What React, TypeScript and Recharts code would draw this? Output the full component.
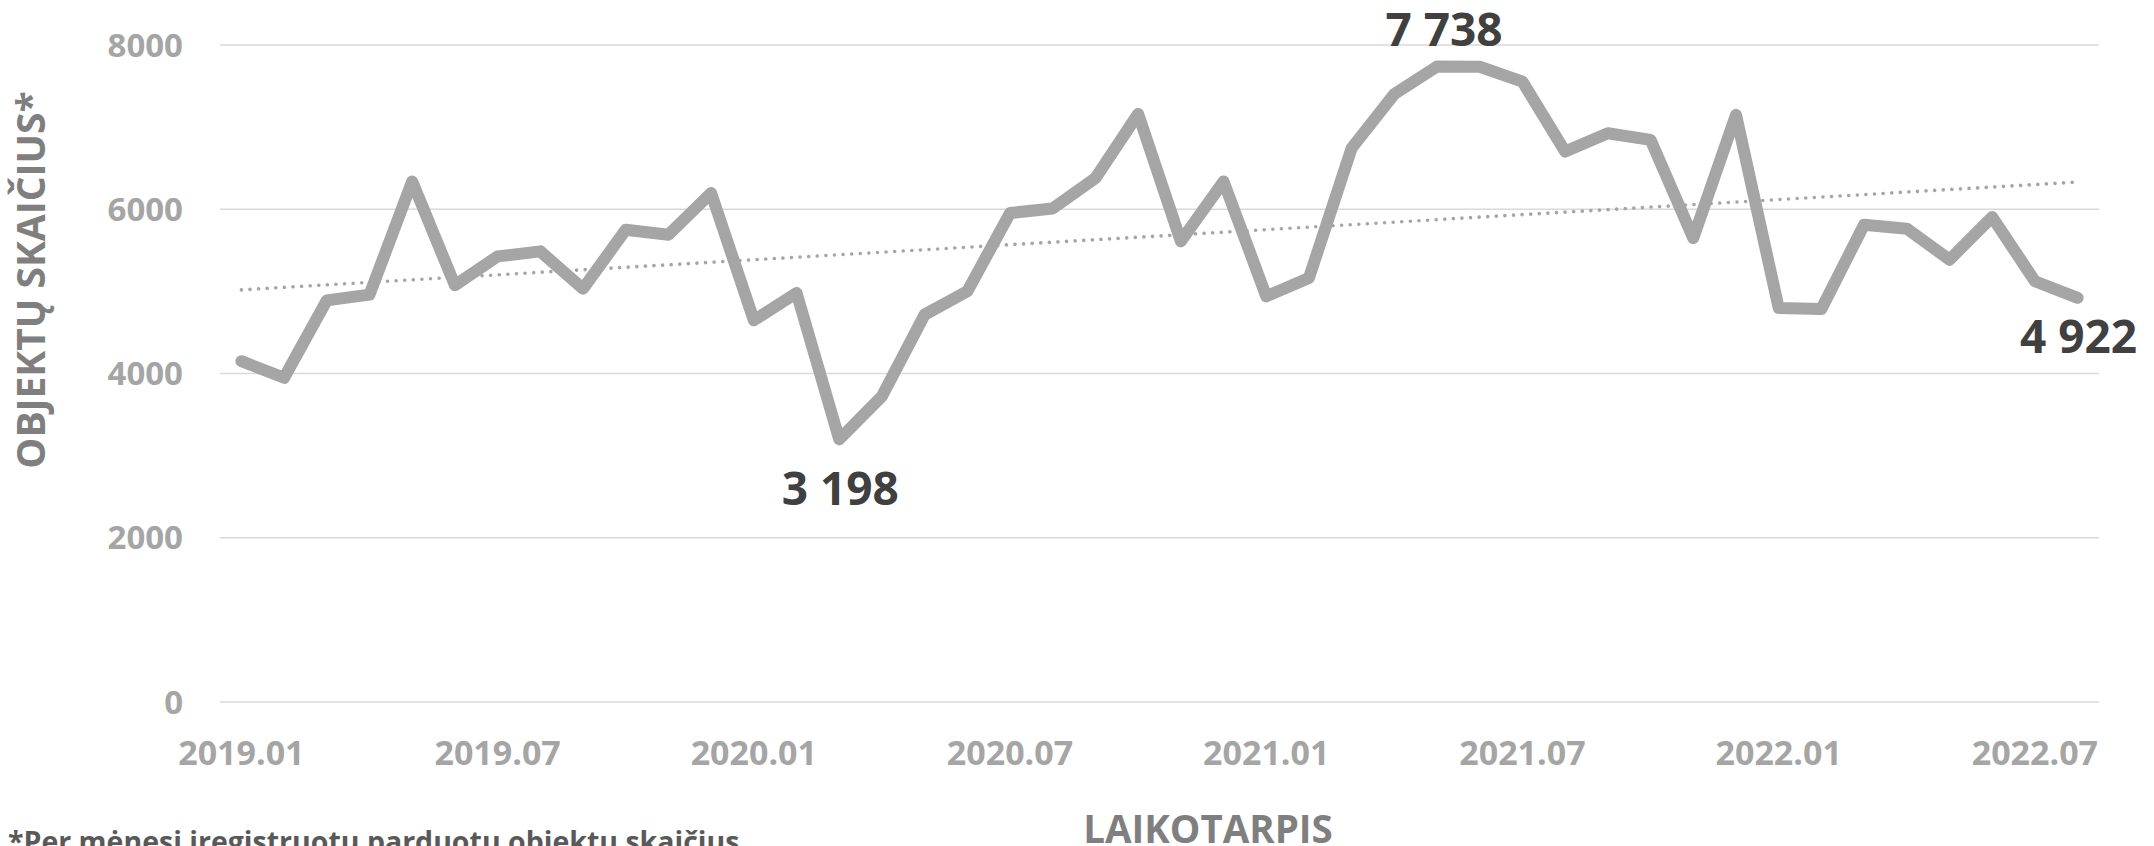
import React from 'react';
import { LineChart, Line, XAxis, YAxis, CartesianGrid } from 'recharts';

const MONTHS = [
  '2019.01', '2019.02', '2019.03', '2019.04', '2019.05', '2019.06', '2019.07', '2019.08', '2019.09', '2019.10', '2019.11', '2019.12',
  '2020.01', '2020.02', '2020.03', '2020.04', '2020.05', '2020.06', '2020.07', '2020.08', '2020.09', '2020.10', '2020.11', '2020.12',
  '2021.01', '2021.02', '2021.03', '2021.04', '2021.05', '2021.06', '2021.07', '2021.08', '2021.09', '2021.10', '2021.11', '2021.12',
  '2022.01', '2022.02', '2022.03', '2022.04', '2022.05', '2022.06', '2022.07', '2022.08',
];

const VALUES = [
  4150, 3948, 4890, 4960, 6338, 5074, 5426, 5487, 5033, 5751, 5690, 6197,
  4648, 4981, 3198, 3724, 4717, 5001, 5954, 6010, 6379, 7161, 5610, 6338,
  4940, 5163, 6744, 7404, 7738, 7735, 7554, 6703, 6926, 6845, 5649, 7149,
  4798, 4786, 5812, 5763, 5386, 5905, 5123, 4922,
];

const Y_TICKS = [0, 2000, 4000, 6000, 8000];
const Y_TITLE = 'OBJEKTŲ SKAIČIUS*';
const X_TITLE = 'LAIKOTARPIS';
const FOOTNOTE = '*Per mėnesį įregistruotų parduotų objektų skaičius';

// Linear (least-squares) trend line of the series, as in the original chart
function linearTrend(vals: number[]): number[] {
  const n = vals.length;
  const mx = (n - 1) / 2;
  const my = vals.reduce((a, b) => a + b, 0) / n;
  let sxy = 0;
  let sxx = 0;
  vals.forEach((v, i) => {
    sxy += (i - mx) * (v - my);
    sxx += (i - mx) * (i - mx);
  });
  const slope = sxy / sxx;
  return vals.map((_, i) => my + slope * (i - mx));
}

const TREND = linearTrend(VALUES);
const data = MONTHS.map((m, i) => ({ month: m, value: VALUES[i], trend: TREND[i] }));

const maxIdx = VALUES.indexOf(Math.max(...VALUES));
const minIdx = VALUES.indexOf(Math.min(...VALUES));
const lastIdx = VALUES.length - 1;

const LABEL_PLACEMENT: Record<number, { dx: number; dy: number }> = {
  [maxIdx]: { dx: 7, dy: -21 },
  [minIdx]: { dx: 1, dy: 66 },
  [lastIdx]: { dx: 1, dy: 55 },
};

const fmt = (v: number) => String(Math.round(v)).replace(/\B(?=(\d{3})+(?!\d))/g, '\u00a0');

const FONT = "'Open Sans', 'Noto Sans', sans-serif";
const W = 2154;
const H = 846;

const renderLabel = (props: any) => {
  const { x, y, value } = props;
  let index = props.index;
  if (index === undefined) index = VALUES.indexOf(value);
  const p = LABEL_PLACEMENT[index];
  if (!p || x == null || y == null) return null;
  return (
    <text
      key={`lbl-${index}`}
      x={x + p.dx}
      y={y + p.dy}
      textAnchor="middle"
      fill="#404040"
      fontFamily={FONT}
      fontWeight={700}
      fontSize={46}
    >
      {fmt(value)}
    </text>
  );
};

export default function App() {
  return (
    <div style={{ position: 'absolute', left: 0, top: 0, width: W, height: H, overflow: 'hidden', background: '#fff' }}>
      <LineChart width={W} height={H} data={data} margin={{ top: 45, right: 55, bottom: 0, left: 0 }}>
        <CartesianGrid vertical={false} stroke="#d9d9d9" strokeWidth={1.5} />
        <XAxis
          dataKey="month"
          interval={5}
          axisLine={false}
          tickLine={false}
          tickSize={0}
          tickMargin={39}
          height={144}
          padding={{ left: 21.4, right: 21.4 }}
          tick={{ fill: '#a5a5a5', fontSize: 34, fontWeight: 700, fontFamily: FONT }}
        />
        <YAxis
          domain={[0, 8000]}
          ticks={Y_TICKS}
          axisLine={false}
          tickLine={false}
          tickSize={0}
          tickMargin={37}
          width={220}
          tick={{ fill: '#a5a5a5', fontSize: 33, fontWeight: 700, fontFamily: FONT }}
        />
        <Line
          type="linear"
          dataKey="trend"
          stroke="#a5a5a5"
          strokeWidth={3.6}
          strokeDasharray="0.01 8.6"
          strokeLinecap="round"
          dot={false}
          activeDot={false}
          isAnimationActive={false}
        />
        <Line
          type="linear"
          dataKey="value"
          stroke="#a5a5a5"
          strokeWidth={12}
          strokeLinejoin="round"
          strokeLinecap="round"
          dot={false}
          activeDot={false}
          isAnimationActive={false}
          label={renderLabel}
        />
      </LineChart>
      <svg
        width={W}
        height={H}
        style={{ position: 'absolute', left: 0, top: 0, pointerEvents: 'none' }}
      >
        <text
          transform="translate(45,280) rotate(-90)"
          textAnchor="middle"
          fill="#7f7f7f"
          fontFamily={FONT}
          fontWeight={700}
          fontSize={39}
        >
          {Y_TITLE}
        </text>
        <text
          x={1208}
          y={843}
          textAnchor="middle"
          fill="#7f7f7f"
          fontFamily={FONT}
          fontWeight={700}
          fontSize={38.5}
        >
          {X_TITLE}
        </text>
        <text x={8} y={852} fill="#595959" fontFamily={FONT} fontWeight={700} fontSize={28.5}>
          {FOOTNOTE}
        </text>
      </svg>
    </div>
  );
}
